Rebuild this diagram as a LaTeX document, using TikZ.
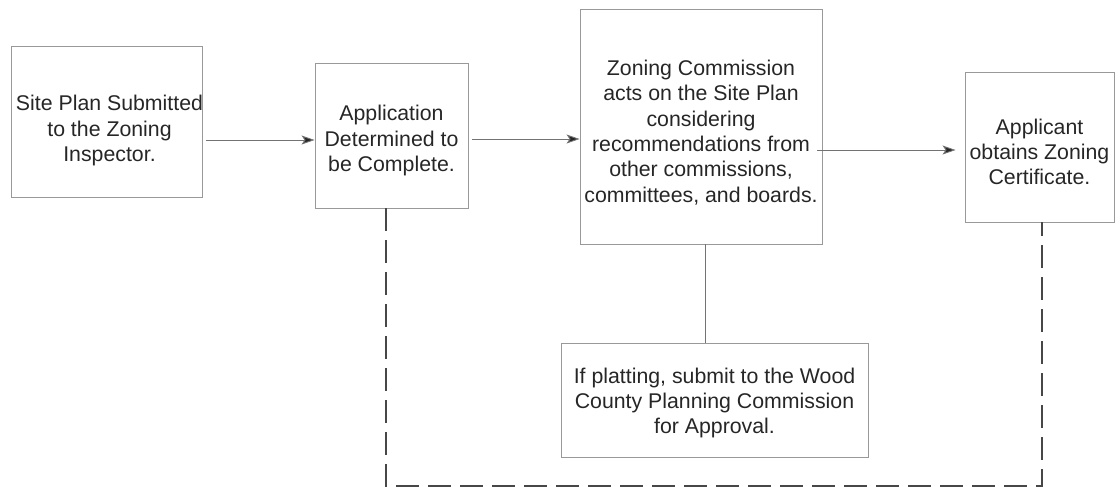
\documentclass[tikz,border=0pt]{standalone}
\usepackage{fontspec}
\setmainfont{Liberation Sans}
\usetikzlibrary{arrows.meta}
\begin{document}
\begin{tikzpicture}[x=1pt,y=-1pt,
  stepbox/.style={draw=black!40,line width=0.9pt,inner sep=0pt},
  steptext/.style={align=center,text=black!85,inner sep=0pt,
    font=\fontsize{21.3}{25.3}\selectfont},
  arr/.style={draw=black!55,line width=0.9pt,-{Stealth[length=13pt,width=9pt,inset=3pt,fill=black!85]}},
  dashline/.style={draw=black!72,line width=1.5pt,dash pattern=on 23pt off 9pt},
  plainline/.style={draw=black!55,line width=0.9pt}]
\useasboundingbox (0,0) rectangle (1119,488);
% boxes
\node[stepbox,minimum width=191pt,minimum height=151pt] (b1) at (106.5,121.5) {};
\node[stepbox,minimum width=153pt,minimum height=145pt] (b2) at (391.5,135.5) {};
\node[stepbox,minimum width=242pt,minimum height=235pt] (b3) at (701,126.5) {};
\node[stepbox,minimum width=149pt,minimum height=150pt] (b4) at (1039.5,147) {};
\node[stepbox,minimum width=307pt,minimum height=114pt] (b5) at (714.5,400) {};
% texts
\node[steptext] (t1) at ([yshift=-9pt,xshift=3pt]b1.center)
  {Site Plan Submitted\\to the Zoning\\Inspector.};
\node[steptext] (t2) at ([yshift=-5pt]b2.center)
  {Application\\Determined to\\be Complete.};
\node[steptext] (t3) at ([yshift=-6pt]b3.center)
  {Zoning Commission\\acts on the Site Plan\\considering\\recommendations from\\other commissions,\\committees, and boards.};
\node[steptext] (t4) at ([yshift=-5pt]b4.center)
  {Applicant\\obtains Zoning\\Certificate.};
\node[steptext] (t5) at ([yshift=-3pt]b5.center)
  {If platting, submit to the Wood\\County Planning Commission\\for Approval.};
% connectors
\draw[arr] ([xshift=4pt]b1.east |- 0,140) -- (b2.west |- 0,140);
\draw[arr] ([xshift=4pt]b2.east |- 0,139) -- (b3.west |- 0,139);
\draw[arr] ([xshift=-5pt]b3.east |- 0,150) -- ([xshift=-9pt]b4.west |- 0,150);
\draw[plainline] (b3.south -| 705,0) -- (b5.north -| 705,0);
\coordinate (dl) at (386,486);
\coordinate (dr) at (1042,486);
\draw[dashline] (b2.south -| dl) -- (dl) -- (dr) -- (b4.south -| dr);
\end{tikzpicture}
\end{document}
